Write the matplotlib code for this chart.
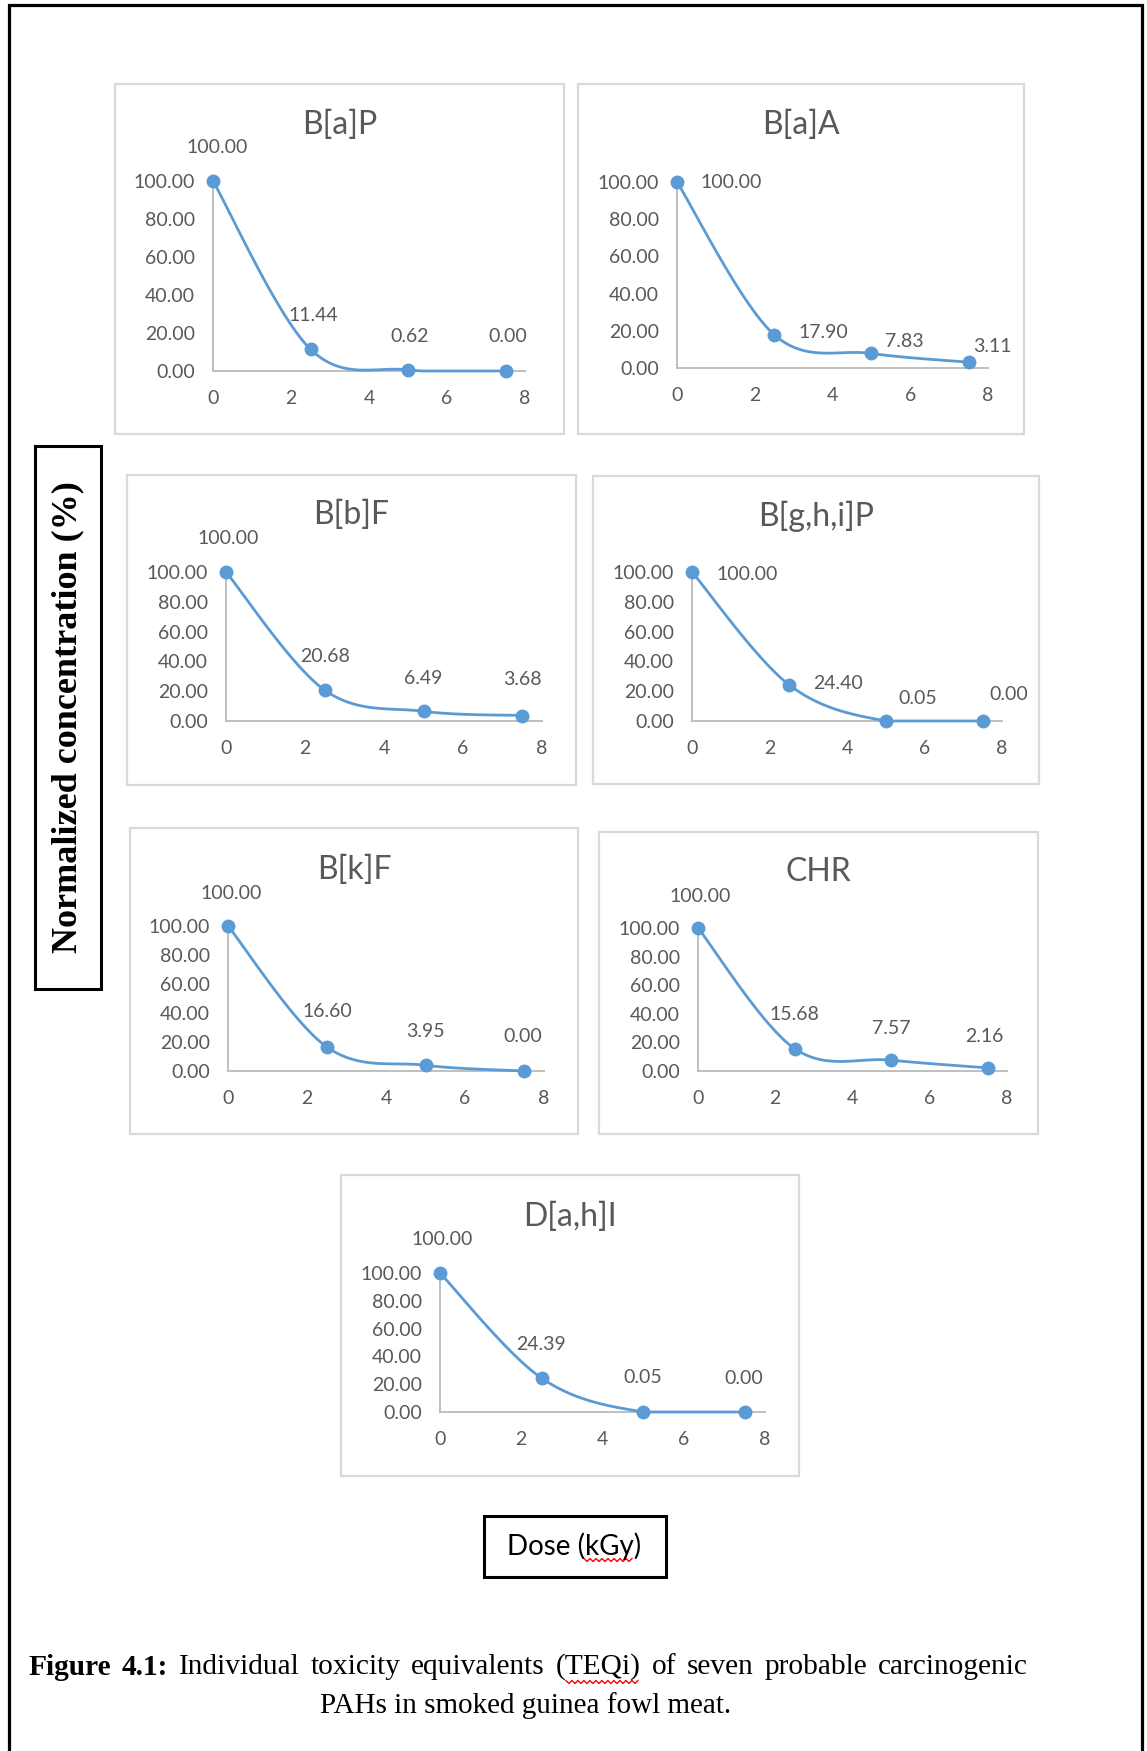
import numpy as np
import matplotlib
matplotlib.use('Agg')
import matplotlib.pyplot as plt
from matplotlib.patches import Rectangle

# figure size in pixels (dpi 100)
W, H = 1147, 1751

# data: normalized concentration (%) vs dose (kGy)
dose = [0, 2.5, 5, 7.5]
names = ['B[a]P', 'B[a]A', 'B[b]F', 'B[g,h,i]P', 'B[k]F', 'CHR', 'D[a,h]I']
bap = [100.00, 11.44, 0.62, 0.00]
baa = [100.00, 17.90, 7.83, 3.11]
bbf = [100.00, 20.68, 6.49, 3.68]
bghip = [100.00, 24.40, 0.05, 0.00]
bkf = [100.00, 16.60, 3.95, 0.00]
chry = [100.00, 15.68, 7.57, 2.16]
dahi = [100.00, 24.39, 0.05, 0.00]
series = [bap, baa, bbf, bghip, bkf, chry, dahi]
y_ticks = [0, 20, 40, 60, 80, 100]
x_ticks = [0, 2, 4, 6, 8]

# layout (pixels): chart box, plot area (left, right, bottom, top), title y
boxes = [(115, 84, 564, 434), (578, 84, 1024, 434),
         (127, 475, 576, 785), (593, 476, 1039, 784),
         (130, 828, 578, 1134), (599, 832, 1038, 1134),
         (341, 1175, 799, 1476)]
areas = [(213, 525, 371, 181), (677, 988, 368, 182),
         (226, 542, 721, 572), (692, 1002, 721, 572),
         (228, 544, 1071, 926), (698, 1007, 1071, 928),
         (440, 765, 1412, 1273)]
title_y = [125, 125, 515, 516, 870, 872, 1217]
# data label offsets in pixels (dx, dy up)
lab_off = [[(4, 34), (3, 34), (2, 33), (2, 34)],
           [(54, 0), (49, 2), (33, 12), (24, 16)],
           [(2, 33), (0, 34), (0, 33), (0, 36)],
           [(55, -2), (49, 1), (32, 22), (26, 27)],
           [(3, 33), (1, 35), (0, 34), (-1, 34)],
           [(2, 32), (0, 34), (0, 32), (-3, 31)],
           [(2, 34), (-1, 34), (0, 34), (-1, 34)]]

BLUE = '#5B9BD5'
GREY_TXT = '#595959'
GREY_AX = '#BFBFBF'
GREY_BOX = '#D9D9D9'
SANS = ['Lato', 'DejaVu Sans']
SERIF = ['Liberation Serif', 'DejaVu Serif']


def excel_smooth(px, py, n=40):
    # Excel-style smoothed line (Catmull-Rom as cubic Bezier)
    pts = np.column_stack([px, py])
    ext = np.vstack([pts[0], pts, pts[-1]])
    t = np.linspace(0, 1, n)[:, None]
    out = []
    for i in range(len(pts) - 1):
        p0, p1, p2, p3 = ext[i], ext[i + 1], ext[i + 2], ext[i + 3]
        c1 = p1 + (p2 - p0) / 6
        c2 = p2 - (p3 - p1) / 6
        out.append((1 - t)**3 * p1 + 3 * (1 - t)**2 * t * c1
                   + 3 * (1 - t) * t**2 * c2 + t**3 * p2)
    return np.vstack(out)


def squiggle(x1, x2, yy):
    zx = np.arange(x1, x2 + 1, 3)
    zy = yy + np.where(np.arange(len(zx)) % 2 == 0, -1.5, 1.5)
    bg.plot(zx, zy, color='red', lw=1)


fig = plt.figure(figsize=(W / 100, H / 100), dpi=100)
bg = fig.add_axes([0, 0, 1, 1])
bg.set_xlim(0, W)
bg.set_ylim(H, 0)
bg.axis('off')

# outer frame (no bottom edge in the reference)
bg.plot([8.5, 8.5, 1142, 1142], [H, 5.5, 5.5, H], color='black', lw=2.3,
        solid_joinstyle='miter')

for i, name in enumerate(names):
    bx0, by0, bx1, by1 = boxes[i]
    bg.add_patch(Rectangle((bx0, by0), bx1 - bx0, by1 - by0, fill=False,
                           ec=GREY_BOX, lw=1.6))
    bg.text((bx0 + bx1) / 2, title_y[i], name, ha='center', va='center',
            fontsize=23, color=GREY_TXT, family=SANS)

    xl, xr, yb, yt = areas[i]
    ax = fig.add_axes([xl / W, 1 - yb / H, (xr - xl) / W, (yb - yt) / H])
    ax.set_xlim(0, 8)
    ax.set_ylim(0, 100)
    ax.patch.set_alpha(0)
    for s in ['top', 'right']:
        ax.spines[s].set_visible(False)
    for s in ['left', 'bottom']:
        ax.spines[s].set_color(GREY_AX)
        ax.spines[s].set_linewidth(1.4)
    ax.set_xticks(x_ticks)
    ax.set_yticks(y_ticks)
    ax.set_yticklabels(['%.2f' % v for v in y_ticks])
    ax.tick_params(length=0, labelsize=14, labelcolor=GREY_TXT)
    ax.tick_params(axis='y', pad=13)
    ax.tick_params(axis='x', pad=14)
    for lb in ax.get_xticklabels() + ax.get_yticklabels():
        lb.set_family(SANS)

    vals = series[i]
    sx = (xr - xl) / 8.0
    sy = (yb - yt) / 100.0
    curve = excel_smooth(np.array(dose) * sx, np.array(vals) * sy)
    ax.plot(curve[:, 0] / sx, np.clip(curve[:, 1] / sy, 0, None), color=BLUE,
            lw=2, clip_on=False, zorder=3)
    ax.plot(dose, vals, 'o', color=BLUE, ms=9, clip_on=False, zorder=4)
    for j, v in enumerate(vals):
        ax.annotate('%.2f' % v, (dose[j], v), xytext=lab_off[i][j],
                    textcoords='offset pixels', ha='center', va='center',
                    fontsize=14, color=GREY_TXT, family=SANS,
                    annotation_clip=False)

# y-axis label box
bg.add_patch(Rectangle((35, 446), 66, 543, fill=False, ec='black', lw=2.2))
bg.text(68, 717, 'Normalized concentration (%)', rotation=90, ha='center',
        va='center', fontsize=26, weight='bold', family=SERIF)

# x-axis label box
bg.add_patch(Rectangle((484, 1516), 182, 61, fill=False, ec='black', lw=2.2))
bg.text(574, 1546, 'Dose (kGy)', ha='center', va='center', fontsize=20,
        family=SANS)
squiggle(584, 632, 1560)

# caption, first line justified between the margins
r = fig.canvas.get_renderer()
words = ['Figure', '4.1:', 'Individual', 'toxicity', 'equivalents', '(TEQi)',
         'of', 'seven', 'probable', 'carcinogenic']
bold = [True, True] + [False] * 8
texts = [bg.text(0, 1667, w, ha='left', va='center', fontsize=21.2,
                 weight='bold' if b else 'normal', family=SERIF)
         for w, b in zip(words, bold)]
widths = [t.get_window_extent(r).width for t in texts]
left, right = 28, 1028
gap = (right - left - sum(widths)) / (len(words) - 1)
x = left
for t, w in zip(texts, widths):
    t.set_x(x)
    x += w + gap
teq = texts[5].get_window_extent(r)
squiggle(teq.x0 + 0.12 * teq.width, teq.x1 - 0.02 * teq.width, 1682)

bg.text(526, 1706, 'PAHs in smoked guinea fowl meat.', ha='center',
        va='center', fontsize=21, family=SERIF)

fig.savefig('out.png', dpi=100)
